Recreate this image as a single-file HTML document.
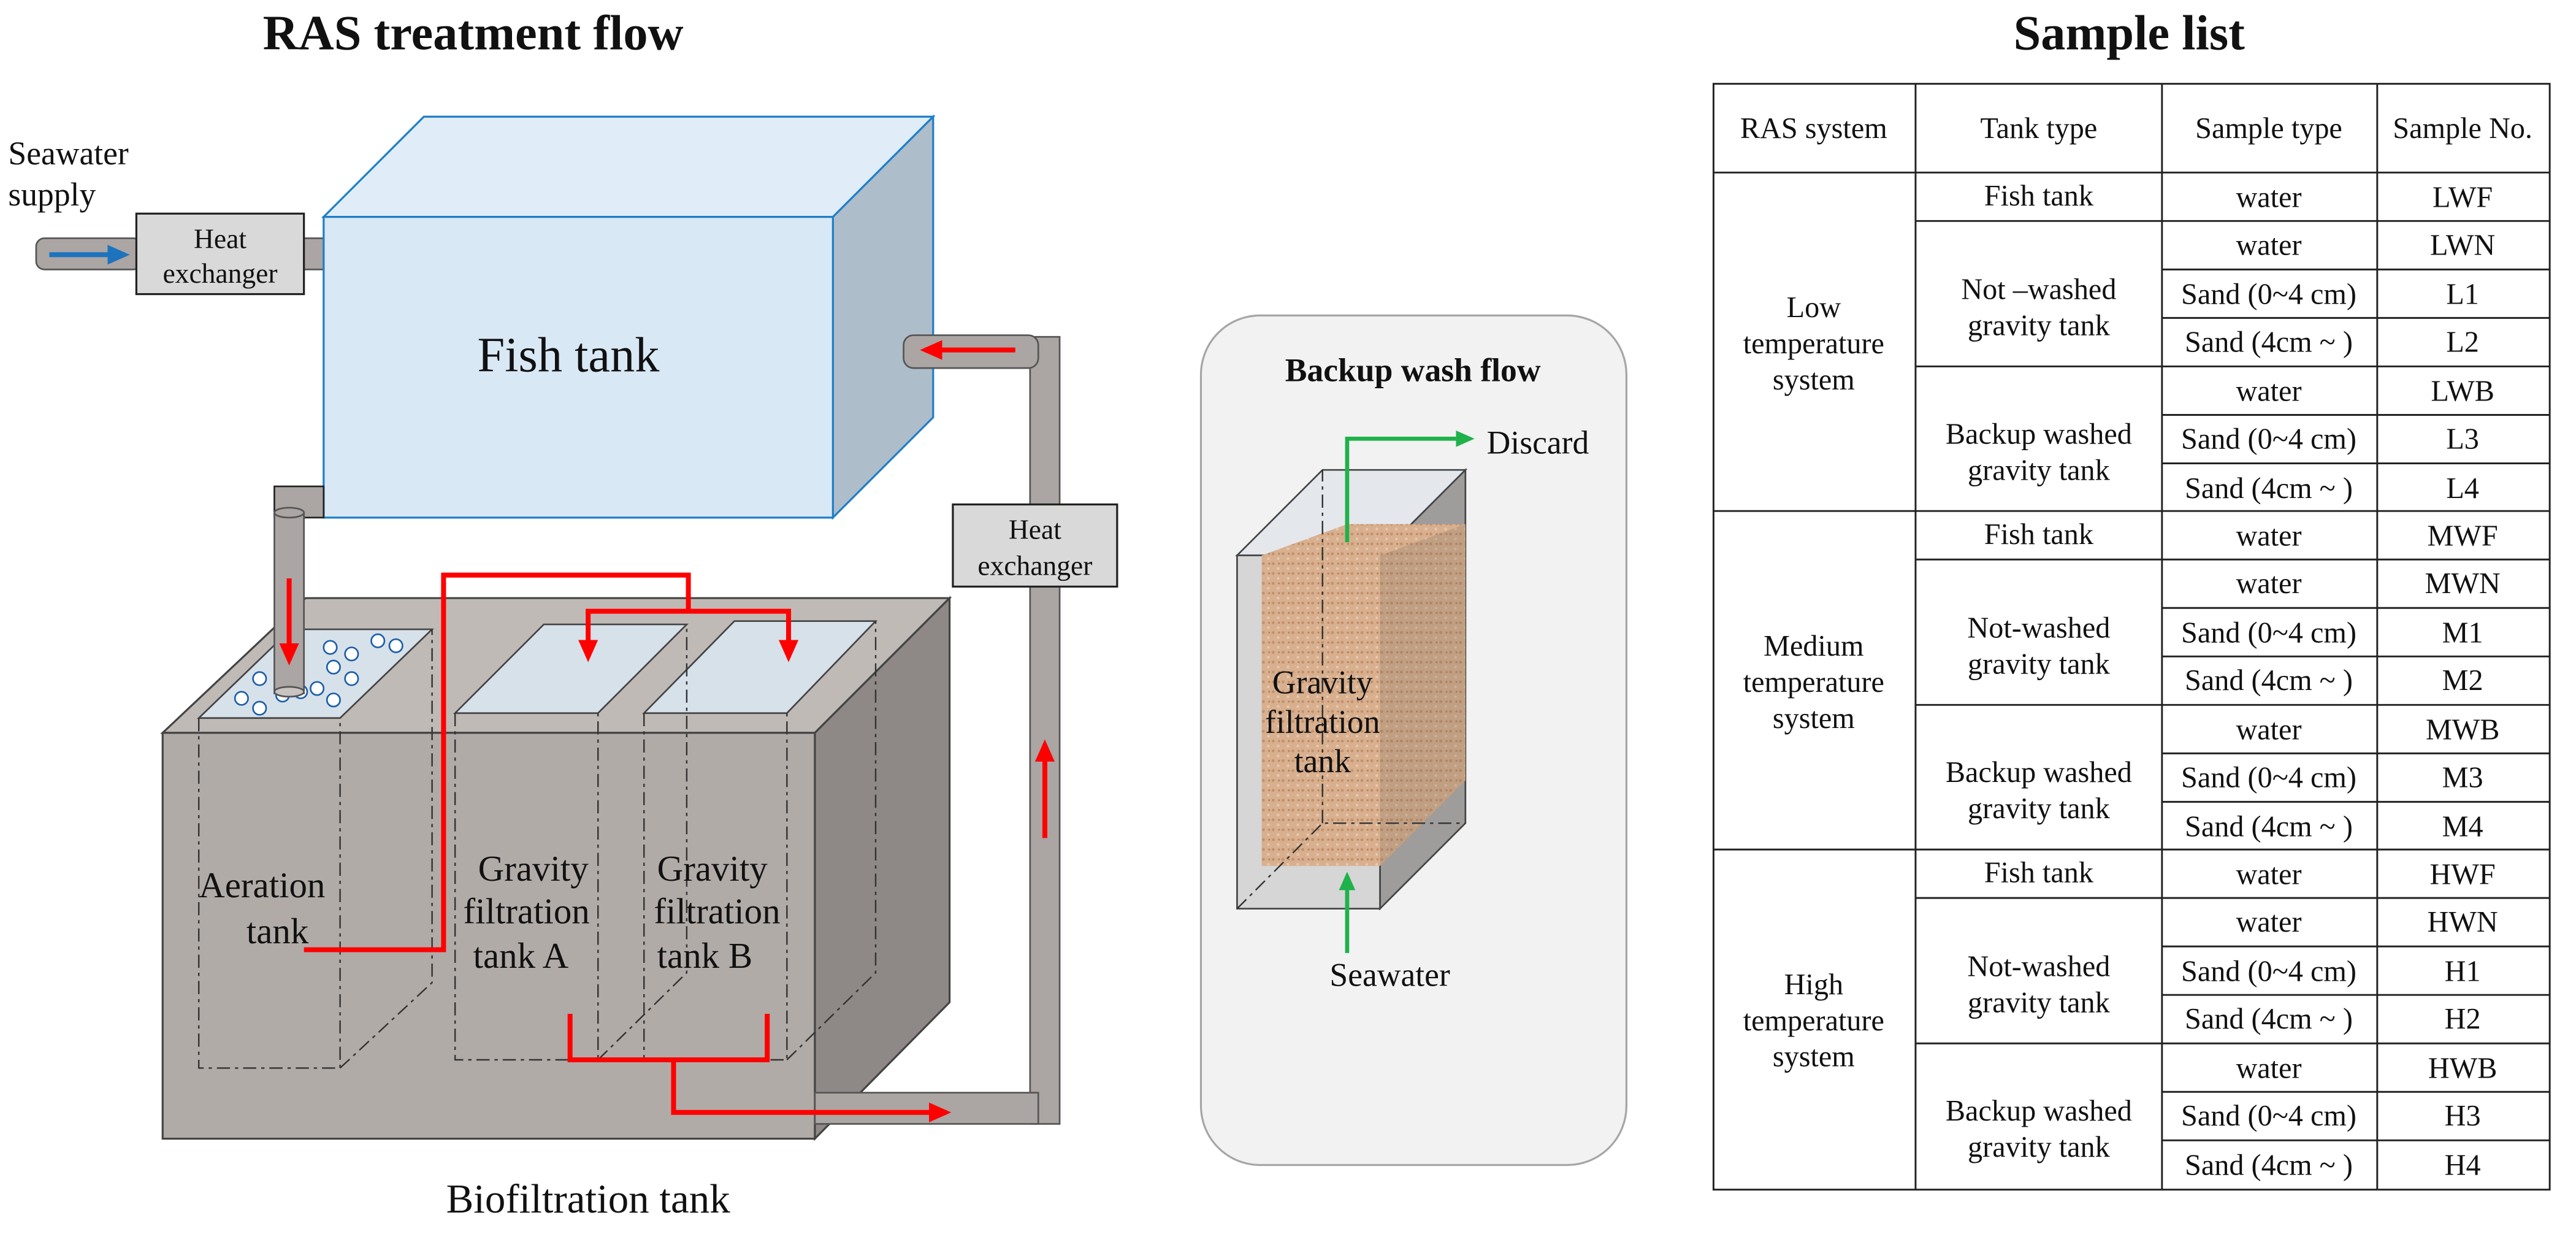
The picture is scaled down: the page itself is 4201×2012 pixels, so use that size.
<!DOCTYPE html>
<html><head><meta charset="utf-8"><style>
html,body{margin:0;padding:0;background:#fff;}
svg{display:block;}
text{font-family:"Liberation Serif",serif;fill:#111;}
</style></head><body>
<svg width="4201" height="2012" viewBox="0 0 1568 751" preserveAspectRatio="none" xmlns="http://www.w3.org/2000/svg">
<defs>
<marker id="ar" markerWidth="4.5" markerHeight="4" refX="3.5" refY="2" orient="auto" markerUnits="strokeWidth"><path d="M0,0 L4.5,2 L0,4 z" fill="#f00"/></marker>
<marker id="ab" markerWidth="4.5" markerHeight="4" refX="3.5" refY="2" orient="auto" markerUnits="strokeWidth"><path d="M0,0 L4.5,2 L0,4 z" fill="#1e73be"/></marker>
<marker id="ag" markerWidth="4.5" markerHeight="4" refX="3.5" refY="2" orient="auto" markerUnits="strokeWidth"><path d="M0,0 L4.5,2 L0,4 z" fill="#1fb24a"/></marker>
<pattern id="sand" width="6" height="6" patternUnits="userSpaceOnUse">
<rect width="6" height="6" fill="#d8b08f"/><circle cx="1" cy="1" r="0.9" fill="#c3916b"/><circle cx="4" cy="4" r="0.8" fill="#e9c9ad"/><circle cx="4.5" cy="1" r="0.6" fill="#b88460"/>
</pattern>
</defs>

<text x="288" y="30" font-size="30" font-weight="bold" text-anchor="middle">RAS treatment flow</text>
<text x="1296" y="30" font-size="30" font-weight="bold" text-anchor="middle">Sample list</text>

<text x="5" y="100" font-size="20">Seawater</text>
<text x="5" y="125" font-size="20">supply</text>
<rect x="22" y="145" width="64" height="19" rx="5" fill="#aba5a3" stroke="#555" stroke-width="1"/>
<line x1="30" y1="155" x2="76" y2="155" stroke="#1e73be" stroke-width="3" marker-end="url(#ab)"/>
<rect x="185" y="145" width="14" height="19" fill="#aba5a3" stroke="#555" stroke-width="1"/>
<rect x="83" y="130" width="102" height="49" fill="#d9d9d9" stroke="#222" stroke-width="1.2"/>
<text x="134" y="151" font-size="17" text-anchor="middle">Heat</text>
<text x="134" y="172" font-size="17" text-anchor="middle">exchanger</text>

<polygon points="197,132 258,71 568,71 507,132" fill="#e0edf8" stroke="#1e7fc8" stroke-width="1.2"/>
<polygon points="507,132 568,71 568,254 507,315" fill="#aebdca" stroke="#1e7fc8" stroke-width="1.2"/>
<rect x="197" y="132" width="310" height="183" fill="#d9e8f5" stroke="#1e7fc8" stroke-width="1.2"/>
<text x="346" y="226" font-size="30" text-anchor="middle">Fish tank</text>

<rect x="627" y="205" width="18" height="479" fill="#aba5a3" stroke="#555" stroke-width="1"/>
<rect x="550" y="204" width="82" height="20" rx="6" fill="#aba5a3" stroke="#555" stroke-width="1"/>
<line x1="618" y1="213" x2="563" y2="213" stroke="#f00" stroke-width="3" marker-end="url(#ar)"/>
<rect x="580" y="307" width="100" height="50" fill="#d9d9d9" stroke="#222" stroke-width="1.2"/>
<text x="630" y="328" font-size="17" text-anchor="middle">Heat</text>
<text x="630" y="350" font-size="17" text-anchor="middle">exchanger</text>
<line x1="636" y1="510" x2="636" y2="453" stroke="#f00" stroke-width="3" marker-end="url(#ar)"/>

<polygon points="99,446 186,364 578,364 496,446" fill="#c0bab7" stroke="#444" stroke-width="1.2"/>
<polygon points="496,446 578,364 578,610 496,693" fill="#8e8987" stroke="#444" stroke-width="1.2"/>
<rect x="99" y="446" width="397" height="247" fill="#b1aba8" stroke="#444" stroke-width="1.2"/>
<rect x="496" y="665" width="136" height="19" fill="#aba5a3" stroke="#555" stroke-width="1"/>

<polygon points="121,437 207,437 263,383 177,383" fill="#d6e1ea" stroke="#444" stroke-width="1"/>
<polygon points="277,434 364,434 418,380 331,380" fill="#d6e1ea" stroke="#444" stroke-width="1"/>
<polygon points="392,434 479,434 533,378 447,378" fill="#d6e1ea" stroke="#444" stroke-width="1"/>

<g stroke="#333" stroke-width="0.9" stroke-dasharray="8,3,2,3" fill="none">
<path d="M121,437 V650 H207 V437 M207,650 L263,598 V383"/>
<path d="M277,434 V645 H364 V434 M364,645 L418,592 V380"/>
<path d="M392,434 V645 H479 V434 M479,645 L533,592 V378"/>
</g>

<g fill="#fff" stroke="#1e5fa8" stroke-width="1">
<circle cx="158" cy="413" r="4"/><circle cx="147" cy="425" r="4"/><circle cx="158" cy="431" r="4"/><circle cx="172" cy="423" r="4"/><circle cx="183" cy="421" r="4"/>
<circle cx="193" cy="419" r="4"/><circle cx="203" cy="406" r="4"/><circle cx="214" cy="398" r="4"/><circle cx="201" cy="394" r="4"/><circle cx="230" cy="390" r="4"/>
<circle cx="241" cy="393" r="4"/><circle cx="214" cy="413" r="4"/><circle cx="203" cy="426" r="4"/>
</g>

<rect x="167" y="296" width="30" height="19" fill="#aba5a3" stroke="#222" stroke-width="1"/>
<rect x="167" y="312" width="18" height="110" fill="#aba5a3" stroke="#555" stroke-width="1"/>
<ellipse cx="176" cy="312" rx="9" ry="3" fill="#aba5a3" stroke="#555" stroke-width="1"/>
<ellipse cx="176" cy="421" rx="9" ry="3" fill="#c9c4c2" stroke="#555" stroke-width="1"/>
<line x1="176" y1="352" x2="176" y2="402" stroke="#f00" stroke-width="3" marker-end="url(#ar)"/>

<g stroke="#f00" stroke-width="3" fill="none">
<polyline points="185,578 270,578 270,350 419,350 419,372"/>
<polyline points="358,374 358,372 480,372 480,376"/>
<polyline points="347,617 347,645 467,645 467,617"/>
<polyline points="410,645 410,677 576,677" marker-end="url(#ar)"/>
</g>
<line x1="358" y1="372" x2="358" y2="400" stroke="#f00" stroke-width="3" marker-end="url(#ar)"/>
<line x1="480" y1="372" x2="480" y2="400" stroke="#f00" stroke-width="3" marker-end="url(#ar)"/>

<text x="121" y="546" font-size="22">Aeration</text>
<text x="150" y="574" font-size="22">tank</text>
<text x="291" y="536" font-size="22">Gravity</text>
<text x="282" y="562" font-size="22">filtration</text>
<text x="288" y="589" font-size="22">tank A</text>
<text x="400" y="536" font-size="22">Gravity</text>
<text x="398" y="562" font-size="22">filtration</text>
<text x="400" y="589" font-size="22">tank B</text>
<text x="358" y="738" font-size="25" text-anchor="middle">Biofiltration tank</text>

<rect x="731" y="192" width="259" height="517" rx="36" fill="#f2f2f2" stroke="#a6a6a6" stroke-width="1.2"/>
<text x="860" y="232" font-size="20" font-weight="bold" text-anchor="middle">Backup wash flow</text>
<polygon points="753,338 805,286 892,286 840,338" fill="#e4e8ec" stroke="#444" stroke-width="1"/>
<polygon points="840,338 892,286 892,501 840,553" fill="#9f9c9c" stroke="#444" stroke-width="1"/>
<rect x="753" y="338" width="87" height="215" fill="#d6d6d6" stroke="#444" stroke-width="1"/>
<polygon points="768,338 820,319 892,319 892,475 840,527 768,527" fill="url(#sand)"/>
<polygon points="840,338 892,319 892,475 840,527" fill="#7a6a5a" opacity="0.25"/>
<g stroke="#333" stroke-width="0.9" stroke-dasharray="8,3,2,3" fill="none">
<path d="M753,553 L805,501 H892 M805,501 V286"/>
</g>
<polyline points="820,330 820,267 895,267" stroke="#1fb24a" stroke-width="2.5" fill="none" marker-end="url(#ag)"/>
<line x1="820" y1="580" x2="820" y2="533" stroke="#1fb24a" stroke-width="2.5" marker-end="url(#ag)"/>
<text x="905" y="276" font-size="20">Discard</text>
<text x="846" y="600" font-size="20" text-anchor="middle">Seawater</text>
<text x="805" y="422" font-size="20" text-anchor="middle">Gravity</text>
<text x="805" y="446" font-size="20" text-anchor="middle">filtration</text>
<text x="805" y="470" font-size="20" text-anchor="middle">tank</text>

<g stroke="#222" stroke-width="1.1" fill="none">
<rect x="1043" y="51" width="509" height="673"/>
<line x1="1166" y1="51" x2="1166" y2="724"/>
<line x1="1316" y1="51" x2="1316" y2="724"/>
<line x1="1447" y1="51" x2="1447" y2="724"/>
<line x1="1043" y1="105" x2="1552" y2="105"/>
<line x1="1043" y1="311" x2="1552" y2="311"/>
<line x1="1043" y1="517" x2="1552" y2="517"/>
</g>
<g stroke="#222" stroke-width="1.1" id="sec">
<line x1="1166" y1="134.5" x2="1552" y2="134.5"/>
<line x1="1316" y1="164" x2="1552" y2="164"/>
<line x1="1316" y1="193.5" x2="1552" y2="193.5"/>
<line x1="1166" y1="223" x2="1552" y2="223"/>
<line x1="1316" y1="252.5" x2="1552" y2="252.5"/>
<line x1="1316" y1="282" x2="1552" y2="282"/>
</g>
<use href="#sec" y="206"/>
<use href="#sec" y="412"/>
<g font-size="18" text-anchor="middle">
<text x="1104" y="84">RAS system</text>
<text x="1241" y="84">Tank type</text>
<text x="1381" y="84">Sample type</text>
<text x="1499" y="84">Sample No.</text>

<text x="1104" y="193">Low</text><text x="1104" y="215">temperature</text><text x="1104" y="237">system</text>
<text x="1104" y="399">Medium</text><text x="1104" y="421">temperature</text><text x="1104" y="443">system</text>
<text x="1104" y="605">High</text><text x="1104" y="627">temperature</text><text x="1104" y="649">system</text>

<text x="1241" y="125">Fish tank</text>
<text x="1241" y="182">Not –washed</text><text x="1241" y="204">gravity tank</text>
<text x="1241" y="270">Backup washed</text><text x="1241" y="292">gravity tank</text>
<text x="1241" y="331">Fish tank</text>
<text x="1241" y="388">Not-washed</text><text x="1241" y="410">gravity tank</text>
<text x="1241" y="476">Backup washed</text><text x="1241" y="498">gravity tank</text>
<text x="1241" y="537">Fish tank</text>
<text x="1241" y="594">Not-washed</text><text x="1241" y="616">gravity tank</text>
<text x="1241" y="682">Backup washed</text><text x="1241" y="704">gravity tank</text>

<text x="1381" y="126">water</text><text x="1381" y="155">water</text><text x="1381" y="185">Sand (0~4 cm)</text><text x="1381" y="214">Sand (4cm ~ )</text>
<text x="1381" y="244">water</text><text x="1381" y="273">Sand (0~4 cm)</text><text x="1381" y="303">Sand (4cm ~ )</text>
<text x="1381" y="332">water</text><text x="1381" y="361">water</text><text x="1381" y="391">Sand (0~4 cm)</text><text x="1381" y="420">Sand (4cm ~ )</text>
<text x="1381" y="450">water</text><text x="1381" y="479">Sand (0~4 cm)</text><text x="1381" y="509">Sand (4cm ~ )</text>
<text x="1381" y="538">water</text><text x="1381" y="567">water</text><text x="1381" y="597">Sand (0~4 cm)</text><text x="1381" y="626">Sand (4cm ~ )</text>
<text x="1381" y="656">water</text><text x="1381" y="685">Sand (0~4 cm)</text><text x="1381" y="715">Sand (4cm ~ )</text>

<text x="1499" y="126">LWF</text><text x="1499" y="155">LWN</text><text x="1499" y="185">L1</text><text x="1499" y="214">L2</text>
<text x="1499" y="244">LWB</text><text x="1499" y="273">L3</text><text x="1499" y="303">L4</text>
<text x="1499" y="332">MWF</text><text x="1499" y="361">MWN</text><text x="1499" y="391">M1</text><text x="1499" y="420">M2</text>
<text x="1499" y="450">MWB</text><text x="1499" y="479">M3</text><text x="1499" y="509">M4</text>
<text x="1499" y="538">HWF</text><text x="1499" y="567">HWN</text><text x="1499" y="597">H1</text><text x="1499" y="626">H2</text>
<text x="1499" y="656">HWB</text><text x="1499" y="685">H3</text><text x="1499" y="715">H4</text>
</g>
</svg>
</body></html>
